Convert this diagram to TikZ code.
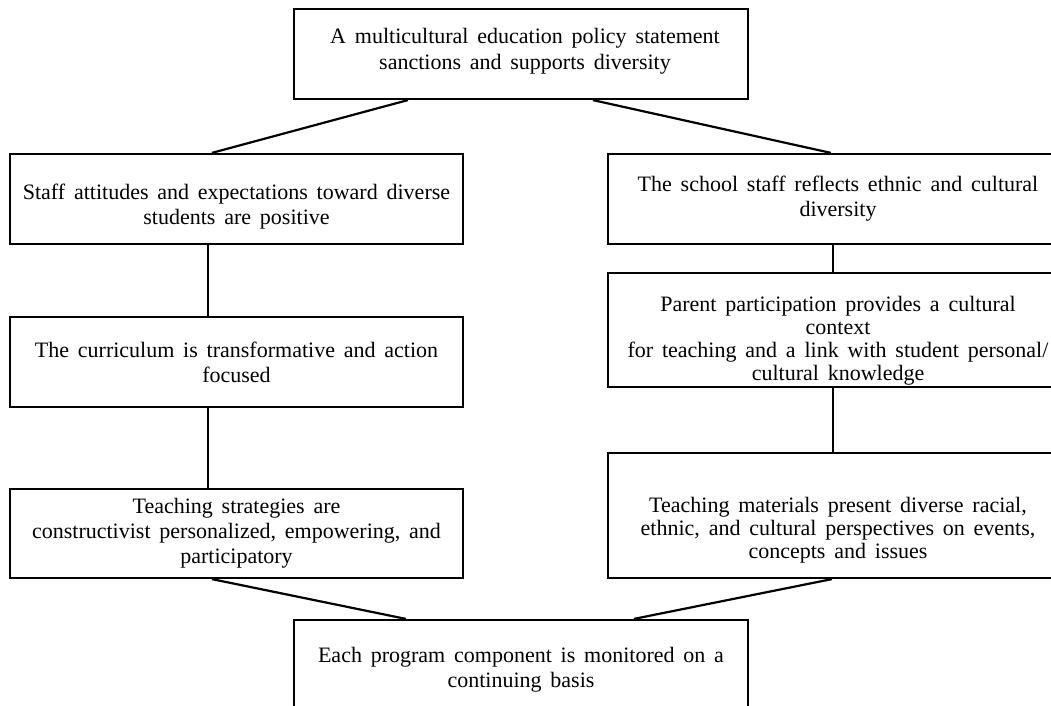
\documentclass[tikz,border=0pt]{standalone}
\usepackage{fontspec}
\setmainfont[WordSpace=1.6]{Liberation Serif}
\usetikzlibrary{calc}
\begin{document}
\begin{tikzpicture}[x=1pt,y=-1pt,
  box/.style={draw=black, line width=2.2pt, fill=white, inner sep=0pt},
  txt/.style={inner sep=0pt, align=center, font=\fontsize{22}{25}\selectfont},
  txtb/.style={inner sep=0pt, align=center, font=\fontsize{22}{23}\selectfont},
  link/.style={draw=black, line width=2.2pt}]
\useasboundingbox (0,0) rectangle (1051,706);
\clip (0,0) rectangle (1051,706);
\fill[white] (0,0) rectangle (1051,706);
% boxes
\node[box, minimum width=454pt, minimum height=90pt] (top) at (521,54) {};
\node[box, minimum width=453pt, minimum height=90pt] (l1) at (236.5,199) {};
\node[box, minimum width=460pt, minimum height=90pt] (r1) at (838,199) {};
\node[box, minimum width=453pt, minimum height=90pt] (l2) at (236.5,362) {};
\node[box, minimum width=460pt, minimum height=114pt] (r2) at (838,330) {};
\node[box, minimum width=453pt, minimum height=89pt] (l3) at (236.5,533.5) {};
\node[box, minimum width=460pt, minimum height=125pt] (r3) at (838,515.5) {};
\node[box, minimum width=454pt, minimum height=100pt] (bot) at (521,670) {};
% texts
\node[txt, font=\fontsize{22}{26}\selectfont] (topt) at ($(top.center)+(4,-3)$)
  {A multicultural education policy statement\\sanctions and supports diversity};
\node[txt] (l1t) at ($(l1.center)+(0,8)$)
  {Staff attitudes and expectations toward diverse\\students are positive};
\node[txt] (r1t) at (r1.center)
  {The school staff reflects ethnic and cultural\\diversity};
\node[txt] (l2t) at (l2.center)
  {The curriculum is transformative and action\\focused};
\node[txtb] (r2t) at ($(r2.center)+(0,11)$)
  {Parent participation provides a cultural\\context\\for teaching and a link with student personal/\\cultural knowledge};
\node[txt] (l3t) at (l3.center)
  {Teaching strategies are\\constructivist personalized, empowering, and\\participatory};
\node[txtb] (r3t) at ($(r3.center)+(0,15)$)
  {Teaching materials present diverse racial,\\ethnic, and cultural perspectives on events,\\concepts and issues};
\node[txt] (bott) at (bot.center)
  {Each program component is monitored on a\\continuing basis};
% connectors
\draw[link] ($(top.south west)+(115,0)$) -- ($(l1.north west)+(203,0)$);
\draw[link] ($(top.south west)+(300,0)$) -- ($(r1.north west)+(224,0)$);
\draw[link] ($(l1.south west)+(199,0)$) -- ($(l2.north west)+(199,0)$);
\draw[link] ($(r1.south west)+(226,0)$) -- ($(r2.north west)+(226,0)$);
\draw[link] ($(l2.south west)+(199,0)$) -- ($(l3.north west)+(199,0)$);
\draw[link] ($(r2.south west)+(226,0)$) -- ($(r3.north west)+(226,0)$);
\draw[link] ($(l3.south west)+(203,0)$) -- ($(bot.north west)+(113,0)$);
\draw[link] ($(r3.south west)+(225,0)$) -- ($(bot.north west)+(341,0)$);
\end{tikzpicture}
\end{document}
